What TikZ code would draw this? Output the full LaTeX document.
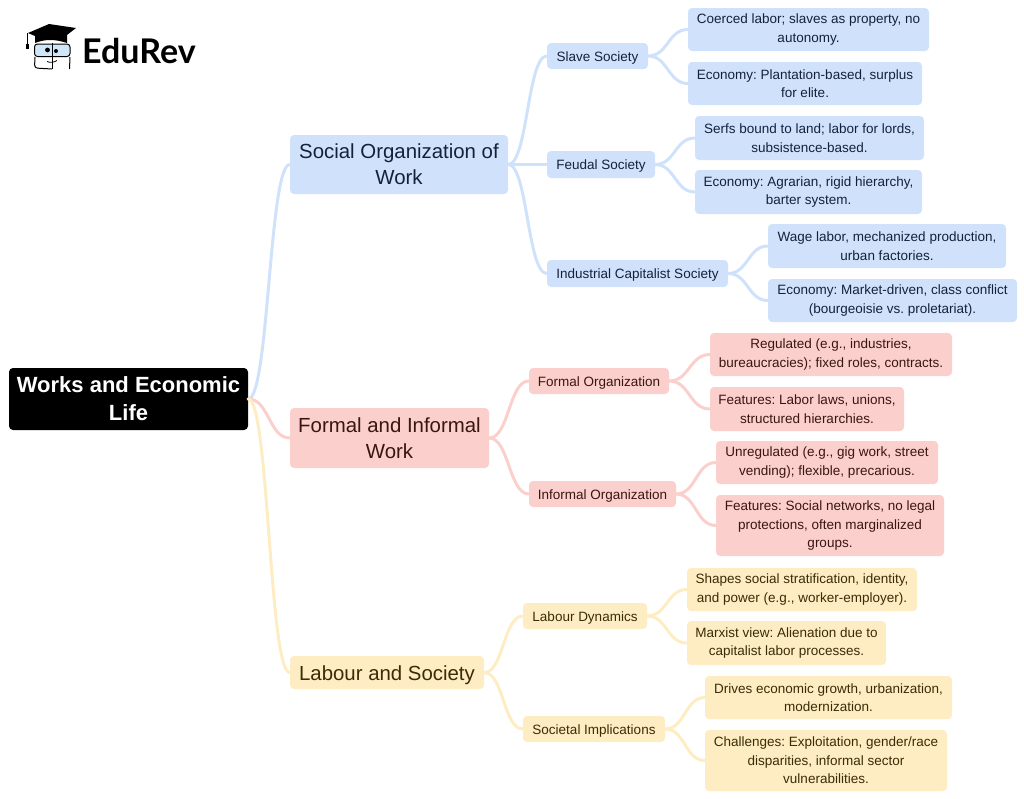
\documentclass[tikz,border=0pt]{standalone}
\usepackage{fontspec}
\setmainfont{Liberation Sans}
\newfontfamily\logofont{Lato}
\frenchspacing
\usetikzlibrary{calc}
\definecolor{bluefill}{HTML}{D0E2FB}
\definecolor{redfill}{HTML}{FBD0CC}
\definecolor{yelfill}{HTML}{FEEDC2}
\definecolor{bluetext}{HTML}{14213A}
\definecolor{redtext}{HTML}{3A1512}
\definecolor{yeltext}{HTML}{3A2C08}
\definecolor{glass}{HTML}{CFE6F8}

\begin{document}
\begin{tikzpicture}[x=1pt,y=-1pt,
box/.style={rounded corners=4pt, align=center, inner sep=0pt, font=\fontsize{13.5}{18.6}\selectfont, execute at begin node={\rule{0pt}{0.95em}}},
branch/.style={box, font=\fontsize{20.4}{26}\selectfont, execute at begin node={}},
bluebox/.style={fill=bluefill, text=bluetext},
redbox/.style={fill=redfill, text=redtext},
yelbox/.style={fill=yelfill, text=yeltext},
link/.style={line width=3pt, line cap=round}]
\useasboundingbox (0,0) rectangle (1024,798);

% logo
\fill[black] (28,33) -- (49,24) -- (76,28) -- (67,35) -- (67,43) .. controls (55,39) and (45,39) .. (35,43) -- (35,36) -- cycle;
\draw[line width=0.9pt] (27,33) -- (27,45);
\fill[black] (25.5,44) rectangle (28.5,49);
\draw[line width=1pt, fill=glass, rounded corners=3pt] (34.5,44) rectangle (70,56.5);
\draw[line width=1pt] (52,43) -- (52,69);
\draw[line width=1pt, rounded corners=3pt] (35,57) -- (34.5,68) -- (52,69) (70,57) -- (69.5,69);
\draw[line width=0.8pt] (47,61.5) .. controls (50,63) and (54,62.5) .. (57,60.5);
\fill[black] (47.5,50) circle (2.4pt) (56,51) circle (2pt);
\node[anchor=west, inner sep=0pt, font=\logofont\bfseries\fontsize{34}{34}\selectfont] (logo) at (82,51) {EduRev};

% root
\node[box, fill=black, text=white, minimum width=239pt, minimum height=62pt, font=\bfseries\fontsize{22}{28}\selectfont, execute at begin node={}] (root) at (128.5,399) {Works and Economic\\Life};

% branches
\node[branch, bluebox, minimum width=218pt, minimum height=59pt] (social) at (399,164.5) {Social Organization of\\Work};
\node[branch, redbox, minimum width=199pt, minimum height=60pt] (work) at (389.5,438) {Formal and Informal\\Work};
\node[branch, yelbox, minimum width=194pt, minimum height=33pt, execute at begin node={\rule{0pt}{0.93em}}] (labour) at (387,672.5) {Labour and Society};

% second level
\node[box, bluebox, minimum width=101pt, minimum height=26pt] (slave) at (597.5,56) {Slave Society};
\node[box, bluebox, minimum width=108pt, minimum height=27pt] (feudal) at (601,164.5) {Feudal Society};
\node[box, bluebox, minimum width=181pt, minimum height=27pt] (industrial) at (637.5,273.5) {Industrial Capitalist Society};
\node[box, redbox, minimum width=140pt, minimum height=26pt] (formal) at (599,381) {Formal Organization};
\node[box, redbox, minimum width=147pt, minimum height=26pt] (informal) at (602.5,494) {Informal Organization};
\node[box, yelbox, minimum width=124pt, minimum height=26pt] (dynamics) at (585,616) {Labour Dynamics};
\node[box, yelbox, minimum width=142pt, minimum height=26pt] (societal) at (594,729) {Societal Implications};

% leaves
\node[box, bluebox, minimum width=241pt, minimum height=43pt] (slaveA) at (808.5,29.5) {Coerced labor; slaves as property, no\\autonomy.};
\node[box, bluebox, minimum width=234pt, minimum height=43pt] (slaveB) at (805,83.5) {Economy: Plantation-based, surplus\\for elite.};
\node[box, bluebox, minimum width=229pt, minimum height=44pt] (feudalA) at (809.5,138) {Serfs bound to land; labor for lords,\\subsistence-based.};
\node[box, bluebox, minimum width=227pt, minimum height=44pt] (feudalB) at (808.5,192) {Economy: Agrarian, rigid hierarchy,\\barter system.};
\node[box, bluebox, minimum width=238pt, minimum height=44pt] (industrialA) at (887,246) {Wage labor, mechanized production,\\urban factories.};
\node[box, bluebox, minimum width=249pt, minimum height=43pt] (industrialB) at (892.5,300.5) {Economy: Market-driven, class conflict\\(bourgeoisie vs. proletariat).};
\node[box, redbox, minimum width=242pt, minimum height=43pt] (formalA) at (831,354.5) {Regulated (e.g., industries,\\bureaucracies); fixed roles, contracts.};
\node[box, redbox, minimum width=194pt, minimum height=44pt] (formalB) at (807,409) {Features: Labor laws, unions,\\structured hierarchies.};
\node[box, redbox, minimum width=222pt, minimum height=43pt] (informalA) at (827,462.5) {Unregulated (e.g., gig work, street\\vending); flexible, precarious.};
\node[box, redbox, minimum width=228pt, minimum height=61pt] (informalB) at (830,525.5) {Features: Social networks, no legal\\protections, often marginalized\\groups.};
\node[box, yelbox, minimum width=230pt, minimum height=43pt] (dynamicsA) at (802,589.5) {Shapes social stratification, identity,\\and power (e.g., worker-employer).};
\node[box, yelbox, minimum width=199pt, minimum height=44pt] (dynamicsB) at (786.5,643) {Marxist view: Alienation due to\\capitalist labor processes.};
\node[box, yelbox, minimum width=247pt, minimum height=43pt] (societalA) at (828.5,697.5) {Drives economic growth, urbanization,\\modernization.};
\node[box, yelbox, minimum width=242pt, minimum height=61pt] (societalB) at (826,760.5) {Challenges: Exploitation, gender/race\\disparities, informal sector\\vulnerabilities.};

% connectors
\foreach \a/\b/\c in {root/social/bluefill,social/slave/bluefill,social/feudal/bluefill,social/industrial/bluefill,
    slave/slaveA/bluefill,slave/slaveB/bluefill,feudal/feudalA/bluefill,feudal/feudalB/bluefill,
    industrial/industrialA/bluefill,industrial/industrialB/bluefill,
    root/work/redfill,work/formal/redfill,work/informal/redfill,
    formal/formalA/redfill,formal/formalB/redfill,informal/informalA/redfill,informal/informalB/redfill,
    root/labour/yelfill,labour/dynamics/yelfill,labour/societal/yelfill,
    dynamics/dynamicsA/yelfill,dynamics/dynamicsB/yelfill,societal/societalA/yelfill,societal/societalB/yelfill} {
    \draw[link, draw=\c] (\a.east) .. controls ($(\a.east)!0.5!(\b.west |- \a.east)$) and ($(\b.west)!0.5!(\a.east |- \b.west)$) .. (\b.west);
}
\end{tikzpicture}
\end{document}
